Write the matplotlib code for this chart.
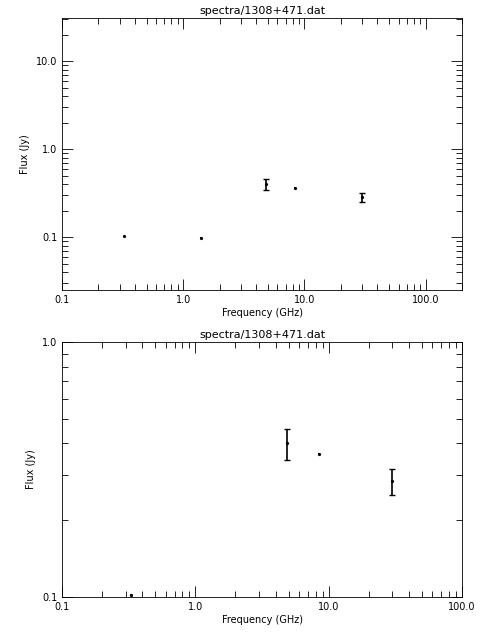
import matplotlib
matplotlib.use("Agg")
import matplotlib.pyplot as plt
from matplotlib.ticker import LogLocator, FixedLocator, NullFormatter

freq = [0.327, 1.4, 4.85, 8.4, 30.0]
flux = [0.102, 0.098, 0.40, 0.365, 0.285]
err = [0.001, 0.001, 0.055, 0.003, 0.033]
title = "spectra/1308+471.dat"

fig = plt.figure(figsize=(4.8, 6.4), dpi=100)
W, H = 480, 640


def panel(box, xlim, ylim, xt, yt):
    l, t, r, b = box
    ax = fig.add_axes([l / W, 1 - b / H, (r - l) / W, (b - t) / H])
    big = [e > 0.01 for e in err]
    for f, y, e, cap in zip(freq, flux, err, big):
        ax.errorbar([f], [y], yerr=[e], fmt='o', ms=1.3, color='black',
                    ecolor='black', elinewidth=1.2,
                    capsize=2 if cap else 0, capthick=1)
    ax.set_xscale('log')
    ax.set_yscale('log')
    ax.set_xlim(*xlim)
    ax.set_ylim(*ylim)
    ax.xaxis.set_major_locator(FixedLocator(xt))
    ax.set_xticklabels(["%.1f" % v for v in xt])
    ax.yaxis.set_major_locator(FixedLocator(yt))
    ax.set_yticklabels(["%.1f" % v for v in yt])
    for a in (ax.xaxis, ax.yaxis):
        a.set_minor_locator(LogLocator(subs=range(2, 10)))
        a.set_minor_formatter(NullFormatter())
    ax.tick_params(which='both', direction='in', top=True, right=True,
                   labelsize=7, width=0.6)
    ax.tick_params(which='major', length=8)
    ax.tick_params(which='minor', length=4)
    for s in ax.spines.values():
        s.set_linewidth(0.6)
    ax.set_title(title, fontsize=8, pad=3)
    ax.set_xlabel("Frequency (GHz)", fontsize=7, labelpad=2)
    ax.set_ylabel("Flux (Jy)", fontsize=7)
    return ax


panel((62, 18, 462, 290), (0.1, 200), (0.025, 31),
      [0.1, 1.0, 10.0, 100.0], [0.1, 1.0, 10.0])
panel((62, 342, 462, 597), (0.1, 100), (0.1, 1.0),
      [0.1, 1.0, 10.0, 100.0], [0.1, 1.0])

fig.savefig("out.png", dpi=100)
